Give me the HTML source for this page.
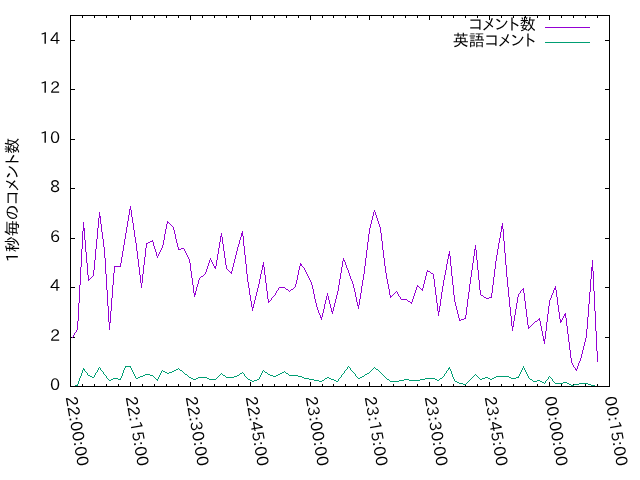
<!DOCTYPE html>
<html lang="ja"><head><meta charset="utf-8"><title>コメント数</title>
<style>html,body{margin:0;padding:0;background:#fff;overflow:hidden}svg{display:block}text{font-family:'IPAPGothic','Liberation Sans','IPAGothic','Noto Sans CJK JP',sans-serif;font-size:16px;fill:#000}</style></head><body>
<svg width="640" height="480" viewBox="0 0 640 480">
<rect width="640" height="480" fill="#fff"/>
<path d="M70.5 386.0v-4M70.5 16.0v4M82.5 386.0v-2M82.5 16.0v2M94.5 386.0v-2M94.5 16.0v2M106.5 386.0v-2M106.5 16.0v2M118.5 386.0v-2M118.5 16.0v2M130.5 386.0v-4M130.5 16.0v4M142.5 386.0v-2M142.5 16.0v2M154.5 386.0v-2M154.5 16.0v2M166.5 386.0v-2M166.5 16.0v2M178.5 386.0v-2M178.5 16.0v2M190.5 386.0v-4M190.5 16.0v4M202.5 386.0v-2M202.5 16.0v2M214.5 386.0v-2M214.5 16.0v2M226.5 386.0v-2M226.5 16.0v2M238.5 386.0v-2M238.5 16.0v2M250.5 386.0v-4M250.5 16.0v4M262.5 386.0v-2M262.5 16.0v2M274.5 386.0v-2M274.5 16.0v2M286.5 386.0v-2M286.5 16.0v2M298.5 386.0v-2M298.5 16.0v2M310.5 386.0v-4M310.5 16.0v4M322.5 386.0v-2M322.5 16.0v2M333.5 386.0v-2M333.5 16.0v2M345.5 386.0v-2M345.5 16.0v2M357.5 386.0v-2M357.5 16.0v2M369.5 386.0v-4M369.5 16.0v4M381.5 386.0v-2M381.5 16.0v2M393.5 386.0v-2M393.5 16.0v2M405.5 386.0v-2M405.5 16.0v2M417.5 386.0v-2M417.5 16.0v2M429.5 386.0v-4M429.5 16.0v4M441.5 386.0v-2M441.5 16.0v2M453.5 386.0v-2M453.5 16.0v2M465.5 386.0v-2M465.5 16.0v2M477.5 386.0v-2M477.5 16.0v2M489.5 386.0v-4M489.5 16.0v4M501.5 386.0v-2M501.5 16.0v2M513.5 386.0v-2M513.5 16.0v2M525.5 386.0v-2M525.5 16.0v2M537.5 386.0v-2M537.5 16.0v2M549.5 386.0v-4M549.5 16.0v4M561.5 386.0v-2M561.5 16.0v2M573.5 386.0v-2M573.5 16.0v2M585.5 386.0v-2M585.5 16.0v2M597.5 386.0v-2M597.5 16.0v2M609.5 386.0v-4M609.5 16.0v4M71.0 386.5h4M609.0 386.5h-4M71.0 337.5h4M609.0 337.5h-4M71.0 287.5h4M609.0 287.5h-4M71.0 238.5h4M609.0 238.5h-4M71.0 188.5h4M609.0 188.5h-4M71.0 139.5h4M609.0 139.5h-4M71.0 89.5h4M609.0 89.5h-4M71.0 40.5h4M609.0 40.5h-4" stroke="#000" stroke-width="1" fill="none" shape-rendering="crispEdges"/>
<text x="60" y="390.0" text-anchor="end">0</text>
<text x="60" y="341.0" text-anchor="end">2</text>
<text x="60" y="291.0" text-anchor="end">4</text>
<text x="60" y="242.0" text-anchor="end">6</text>
<text x="60" y="192.0" text-anchor="end">8</text>
<text x="60" y="143.0" text-anchor="end" textLength="20.16" lengthAdjust="spacing">10</text>
<text x="60" y="93.0" text-anchor="end" textLength="20.16" lengthAdjust="spacing">12</text>
<text x="60" y="44.0" text-anchor="end" textLength="20.16" lengthAdjust="spacing">14</text>
<text transform="translate(70.5,396.5) rotate(80)" x="0" y="5" textLength="70.7" lengthAdjust="spacing">22:00:00</text>
<text transform="translate(130.5,396.5) rotate(80)" x="0" y="5" textLength="70.7" lengthAdjust="spacing">22:15:00</text>
<text transform="translate(190.5,396.5) rotate(80)" x="0" y="5" textLength="70.7" lengthAdjust="spacing">22:30:00</text>
<text transform="translate(250.5,396.5) rotate(80)" x="0" y="5" textLength="70.7" lengthAdjust="spacing">22:45:00</text>
<text transform="translate(310.5,396.5) rotate(80)" x="0" y="5" textLength="70.7" lengthAdjust="spacing">23:00:00</text>
<text transform="translate(369.5,396.5) rotate(80)" x="0" y="5" textLength="70.7" lengthAdjust="spacing">23:15:00</text>
<text transform="translate(429.5,396.5) rotate(80)" x="0" y="5" textLength="70.7" lengthAdjust="spacing">23:30:00</text>
<text transform="translate(489.5,396.5) rotate(80)" x="0" y="5" textLength="70.7" lengthAdjust="spacing">23:45:00</text>
<text transform="translate(549.5,396.5) rotate(80)" x="0" y="5" textLength="70.7" lengthAdjust="spacing">00:00:00</text>
<text transform="translate(609.5,396.5) rotate(80)" x="0" y="5" textLength="70.7" lengthAdjust="spacing">00:15:00</text>
<text transform="translate(17.5,200) rotate(-90)" text-anchor="middle" textLength="124.64" lengthAdjust="spacing">1秒毎のコメント数</text>
<text x="535.8" y="30.3" text-anchor="end" textLength="67.05" lengthAdjust="spacing">コメント数</text>
<text x="535.8" y="45.5" text-anchor="end" textLength="83.05" lengthAdjust="spacing">英語コメント</text>
<path d="M545 27.5H590" stroke="#9400d3" stroke-width="1" fill="none" shape-rendering="crispEdges"/>
<path d="M545 42.5H590" stroke="#009e73" stroke-width="1" fill="none" shape-rendering="crispEdges"/>
<path d="M72 337h1v1h-1zM73 335h1v2h-1zM74 333h1v2h-1zM75 332h1v1h-1zM76 330h1v2h-1zM77 321h1v9h-1zM78 303h1v18h-1zM79 285h1v18h-1zM80 267h1v18h-1zM81 249h1v18h-1zM82 231h1v18h-1zM83 222h1v9h-1zM84 228h1v12h-1zM85 240h1v12h-1zM86 252h1v11h-1zM87 263h1v12h-1zM88 275h1v6h-1zM89 279h1v1h-1zM90 278h1v1h-1zM91 277h1v1h-1zM92 276h1v1h-1zM93 270h1v6h-1zM94 260h1v10h-1zM95 249h1v11h-1zM96 239h1v10h-1zM97 228h1v11h-1zM98 218h1v10h-1zM99 212h1v6h-1zM100 216h1v8h-1zM101 224h1v8h-1zM102 232h1v7h-1zM103 239h1v8h-1zM104 247h1v11h-1zM105 258h1v16h-1zM106 274h1v16h-1zM107 290h1v16h-1zM108 306h1v16h-1zM109 322h1v8h-1zM110 311h1v12h-1zM111 298h1v13h-1zM112 285h1v13h-1zM113 273h1v12h-1zM114 266h1v7h-1zM115 266h1v1h-1zM116 266h1v1h-1zM117 266h1v1h-1zM118 266h1v1h-1zM119 266h1v1h-1zM120 263h1v4h-1zM121 257h1v6h-1zM122 251h1v6h-1zM123 245h1v6h-1zM124 239h1v6h-1zM125 233h1v6h-1zM126 227h1v6h-1zM127 221h1v6h-1zM128 215h1v6h-1zM129 209h1v6h-1zM130 206h1v4h-1zM131 210h1v7h-1zM132 217h1v6h-1zM133 223h1v7h-1zM134 230h1v7h-1zM135 237h1v6h-1zM136 243h1v8h-1zM137 251h1v8h-1zM138 259h1v8h-1zM139 267h1v8h-1zM140 275h1v8h-1zM141 283h1v5h-1zM142 274h1v9h-1zM143 265h1v9h-1zM144 257h1v8h-1zM145 248h1v9h-1zM146 243h1v5h-1zM147 243h1v1h-1zM148 242h1v1h-1zM149 242h1v1h-1zM150 241h1v1h-1zM151 241h1v1h-1zM152 240h1v2h-1zM153 242h1v4h-1zM154 246h1v3h-1zM155 249h1v3h-1zM156 252h1v4h-1zM157 256h1v2h-1zM158 254h1v2h-1zM159 252h1v2h-1zM160 250h1v2h-1zM161 248h1v2h-1zM162 245h1v3h-1zM163 240h1v5h-1zM164 234h1v6h-1zM165 229h1v5h-1zM166 224h1v5h-1zM167 221h1v3h-1zM168 222h1v1h-1zM169 223h1v1h-1zM170 224h1v1h-1zM171 225h1v1h-1zM172 226h1v1h-1zM173 227h1v3h-1zM174 230h1v4h-1zM175 234h1v5h-1zM176 239h1v4h-1zM177 243h1v4h-1zM178 247h1v3h-1zM179 249h1v1h-1zM180 249h1v1h-1zM181 248h1v1h-1zM182 248h1v1h-1zM183 248h1v1h-1zM184 249h1v2h-1zM185 251h1v2h-1zM186 253h1v2h-1zM187 255h1v2h-1zM188 257h1v2h-1zM189 259h1v4h-1zM190 263h1v8h-1zM191 271h1v7h-1zM192 278h1v7h-1zM193 285h1v8h-1zM194 293h1v4h-1zM195 291h1v4h-1zM196 287h1v4h-1zM197 284h1v3h-1zM198 280h1v4h-1zM199 278h1v2h-1zM200 277h1v1h-1zM201 276h1v1h-1zM202 276h1v1h-1zM203 275h1v1h-1zM204 274h1v1h-1zM205 272h1v2h-1zM206 269h1v3h-1zM207 266h1v3h-1zM208 263h1v3h-1zM209 260h1v3h-1zM210 258h1v2h-1zM211 260h1v2h-1zM212 262h1v2h-1zM213 264h1v2h-1zM214 266h1v2h-1zM215 266h1v3h-1zM216 260h1v6h-1zM217 254h1v6h-1zM218 248h1v6h-1zM219 242h1v6h-1zM220 236h1v6h-1zM221 233h1v4h-1zM222 237h1v7h-1zM223 244h1v7h-1zM224 251h1v7h-1zM225 258h1v7h-1zM226 265h1v4h-1zM227 269h1v1h-1zM228 270h1v1h-1zM229 271h1v1h-1zM230 272h1v1h-1zM231 271h1v3h-1zM232 267h1v4h-1zM233 263h1v4h-1zM234 259h1v4h-1zM235 255h1v4h-1zM236 251h1v4h-1zM237 247h1v4h-1zM238 244h1v3h-1zM239 240h1v4h-1zM240 237h1v3h-1zM241 233h1v4h-1zM242 231h1v5h-1zM243 236h1v10h-1zM244 246h1v9h-1zM245 255h1v9h-1zM246 264h1v10h-1zM247 274h1v8h-1zM248 282h1v6h-1zM249 288h1v7h-1zM250 295h1v6h-1zM251 301h1v6h-1zM252 307h1v4h-1zM253 304h1v4h-1zM254 300h1v4h-1zM255 296h1v4h-1zM256 292h1v4h-1zM257 288h1v4h-1zM258 284h1v4h-1zM259 279h1v5h-1zM260 274h1v5h-1zM261 270h1v4h-1zM262 265h1v5h-1zM263 262h1v5h-1zM264 267h1v8h-1zM265 275h1v8h-1zM266 283h1v8h-1zM267 291h1v8h-1zM268 299h1v4h-1zM269 301h1v1h-1zM270 300h1v1h-1zM271 298h1v2h-1zM272 297h1v1h-1zM273 296h1v1h-1zM274 295h1v1h-1zM275 293h1v2h-1zM276 291h1v2h-1zM277 290h1v1h-1zM278 288h1v2h-1zM279 287h1v1h-1zM280 287h1v1h-1zM281 287h1v1h-1zM282 287h1v1h-1zM283 287h1v1h-1zM284 287h1v1h-1zM285 288h1v1h-1zM286 289h1v1h-1zM287 289h1v1h-1zM288 290h1v1h-1zM289 291h1v1h-1zM290 290h1v1h-1zM291 289h1v1h-1zM292 289h1v1h-1zM293 288h1v1h-1zM294 287h1v1h-1zM295 284h1v3h-1zM296 280h1v4h-1zM297 275h1v5h-1zM298 270h1v5h-1zM299 266h1v4h-1zM300 263h1v3h-1zM301 264h1v2h-1zM302 266h1v1h-1zM303 267h1v1h-1zM304 268h1v2h-1zM305 270h1v2h-1zM306 272h1v2h-1zM307 274h1v2h-1zM308 276h1v2h-1zM309 278h1v2h-1zM310 280h1v2h-1zM311 282h1v3h-1zM312 285h1v4h-1zM313 289h1v5h-1zM314 294h1v5h-1zM315 299h1v4h-1zM316 303h1v4h-1zM317 307h1v3h-1zM318 310h1v3h-1zM319 313h1v2h-1zM320 315h1v3h-1zM321 317h1v3h-1zM322 313h1v4h-1zM323 309h1v4h-1zM324 304h1v5h-1zM325 300h1v4h-1zM326 296h1v4h-1zM327 293h1v3h-1zM328 296h1v4h-1zM329 300h1v4h-1zM330 304h1v4h-1zM331 308h1v4h-1zM332 311h1v3h-1zM333 307h1v4h-1zM334 303h1v4h-1zM335 299h1v4h-1zM336 295h1v4h-1zM337 291h1v4h-1zM338 285h1v6h-1zM339 279h1v6h-1zM340 273h1v6h-1zM341 267h1v6h-1zM342 261h1v6h-1zM343 258h1v3h-1zM344 260h1v2h-1zM345 262h1v3h-1zM346 265h1v3h-1zM347 268h1v2h-1zM348 270h1v3h-1zM349 273h1v3h-1zM350 276h1v3h-1zM351 279h1v2h-1zM352 281h1v3h-1zM353 284h1v4h-1zM354 288h1v4h-1zM355 292h1v5h-1zM356 297h1v5h-1zM357 302h1v4h-1zM358 305h1v4h-1zM359 299h1v6h-1zM360 293h1v6h-1zM361 286h1v7h-1zM362 280h1v6h-1zM363 274h1v6h-1zM364 266h1v8h-1zM365 258h1v8h-1zM366 250h1v8h-1zM367 242h1v8h-1zM368 234h1v8h-1zM369 228h1v6h-1zM370 224h1v4h-1zM371 220h1v4h-1zM372 216h1v4h-1zM373 212h1v4h-1zM374 210h1v2h-1zM375 212h1v3h-1zM376 215h1v3h-1zM377 218h1v3h-1zM378 221h1v3h-1zM379 224h1v3h-1zM380 227h1v6h-1zM381 233h1v8h-1zM382 241h1v9h-1zM383 250h1v8h-1zM384 258h1v8h-1zM385 266h1v7h-1zM386 273h1v6h-1zM387 279h1v5h-1zM388 284h1v5h-1zM389 289h1v6h-1zM390 295h1v3h-1zM391 296h1v1h-1zM392 295h1v1h-1zM393 294h1v1h-1zM394 293h1v1h-1zM395 292h1v1h-1zM396 291h1v1h-1zM397 292h1v2h-1zM398 294h1v2h-1zM399 296h1v1h-1zM400 297h1v2h-1zM401 299h1v1h-1zM402 299h1v1h-1zM403 299h1v1h-1zM404 299h1v1h-1zM405 299h1v1h-1zM406 299h1v1h-1zM407 300h1v1h-1zM408 301h1v1h-1zM409 301h1v1h-1zM410 302h1v1h-1zM411 302h1v2h-1zM412 299h1v3h-1zM413 296h1v3h-1zM414 293h1v3h-1zM415 290h1v3h-1zM416 287h1v3h-1zM417 285h1v2h-1zM418 286h1v1h-1zM419 287h1v1h-1zM420 288h1v1h-1zM421 289h1v1h-1zM422 288h1v3h-1zM423 284h1v4h-1zM424 280h1v4h-1zM425 276h1v4h-1zM426 272h1v4h-1zM427 270h1v2h-1zM428 271h1v1h-1zM429 271h1v1h-1zM430 272h1v1h-1zM431 273h1v1h-1zM432 273h1v1h-1zM433 274h1v5h-1zM434 279h1v8h-1zM435 287h1v8h-1zM436 295h1v8h-1zM437 303h1v8h-1zM438 311h1v5h-1zM439 306h1v6h-1zM440 299h1v7h-1zM441 292h1v7h-1zM442 286h1v6h-1zM443 280h1v6h-1zM444 275h1v5h-1zM445 270h1v5h-1zM446 264h1v6h-1zM447 259h1v5h-1zM448 254h1v5h-1zM449 251h1v5h-1zM450 256h1v10h-1zM451 266h1v10h-1zM452 276h1v9h-1zM453 285h1v10h-1zM454 295h1v7h-1zM455 302h1v4h-1zM456 306h1v4h-1zM457 310h1v4h-1zM458 314h1v4h-1zM459 318h1v3h-1zM460 320h1v1h-1zM461 319h1v1h-1zM462 319h1v1h-1zM463 319h1v1h-1zM464 318h1v1h-1zM465 315h1v4h-1zM466 307h1v8h-1zM467 299h1v8h-1zM468 292h1v7h-1zM469 284h1v8h-1zM470 277h1v7h-1zM471 270h1v7h-1zM472 263h1v7h-1zM473 256h1v7h-1zM474 249h1v7h-1zM475 245h1v5h-1zM476 250h1v10h-1zM477 260h1v10h-1zM478 270h1v10h-1zM479 280h1v10h-1zM480 290h1v5h-1zM481 295h1v1h-1zM482 295h1v1h-1zM483 296h1v1h-1zM484 297h1v1h-1zM485 297h1v1h-1zM486 298h1v1h-1zM487 298h1v1h-1zM488 298h1v1h-1zM489 297h1v1h-1zM490 297h1v1h-1zM491 293h1v5h-1zM492 285h1v8h-1zM493 277h1v8h-1zM494 269h1v8h-1zM495 261h1v8h-1zM496 255h1v6h-1zM497 249h1v6h-1zM498 243h1v6h-1zM499 238h1v5h-1zM500 232h1v6h-1zM501 226h1v6h-1zM502 223h1v6h-1zM503 229h1v12h-1zM504 241h1v12h-1zM505 253h1v12h-1zM506 265h1v12h-1zM507 277h1v10h-1zM508 287h1v10h-1zM509 297h1v10h-1zM510 307h1v9h-1zM511 316h1v10h-1zM512 326h1v5h-1zM513 321h1v6h-1zM514 315h1v6h-1zM515 309h1v6h-1zM516 303h1v6h-1zM517 297h1v6h-1zM518 294h1v3h-1zM519 293h1v1h-1zM520 291h1v2h-1zM521 290h1v1h-1zM522 289h1v1h-1zM523 288h1v5h-1zM524 293h1v8h-1zM525 301h1v8h-1zM526 309h1v8h-1zM527 317h1v8h-1zM528 325h1v4h-1zM529 327h1v1h-1zM530 326h1v1h-1zM531 325h1v1h-1zM532 324h1v1h-1zM533 323h1v1h-1zM534 322h1v1h-1zM535 321h1v1h-1zM536 321h1v1h-1zM537 320h1v1h-1zM538 319h1v1h-1zM539 318h1v3h-1zM540 321h1v5h-1zM541 326h1v5h-1zM542 331h1v5h-1zM543 336h1v5h-1zM544 339h1v5h-1zM545 331h1v8h-1zM546 322h1v9h-1zM547 314h1v8h-1zM548 306h1v8h-1zM549 300h1v6h-1zM550 298h1v2h-1zM551 295h1v3h-1zM552 293h1v2h-1zM553 290h1v3h-1zM554 288h1v2h-1zM555 286h1v4h-1zM556 290h1v7h-1zM557 297h1v8h-1zM558 305h1v7h-1zM559 312h1v7h-1zM560 319h1v4h-1zM561 320h1v2h-1zM562 318h1v2h-1zM563 316h1v2h-1zM564 314h1v2h-1zM565 313h1v5h-1zM566 318h1v8h-1zM567 326h1v8h-1zM568 334h1v8h-1zM569 342h1v8h-1zM570 350h1v8h-1zM571 358h1v5h-1zM572 363h1v2h-1zM573 365h1v2h-1zM574 367h1v1h-1zM575 368h1v2h-1zM576 369h1v2h-1zM577 366h1v3h-1zM578 363h1v3h-1zM579 361h1v2h-1zM580 358h1v3h-1zM581 354h1v4h-1zM582 350h1v4h-1zM583 346h1v4h-1zM584 342h1v4h-1zM585 338h1v4h-1zM586 329h1v9h-1zM587 317h1v12h-1zM588 304h1v13h-1zM589 292h1v12h-1zM590 279h1v13h-1zM591 267h1v12h-1zM592 260h1v11h-1zM593 271h1v20h-1zM594 291h1v20h-1zM595 311h1v20h-1zM596 331h1v20h-1zM597 351h1v11h-1z" fill="#9400d3" stroke="none" shape-rendering="crispEdges"/>
<path d="M72 386h1v1h-1zM73 386h1v1h-1zM74 386h1v1h-1zM75 385h1v1h-1zM76 385h1v1h-1zM77 384h1v2h-1zM78 381h1v3h-1zM79 378h1v3h-1zM80 376h1v2h-1zM81 373h1v3h-1zM82 370h1v3h-1zM83 368h1v2h-1zM84 369h1v2h-1zM85 371h1v1h-1zM86 372h1v1h-1zM87 373h1v2h-1zM88 375h1v1h-1zM89 375h1v1h-1zM90 376h1v1h-1zM91 376h1v1h-1zM92 377h1v1h-1zM93 377h1v1h-1zM94 375h1v2h-1zM95 373h1v2h-1zM96 372h1v1h-1zM97 370h1v2h-1zM98 368h1v2h-1zM99 367h1v1h-1zM100 368h1v2h-1zM101 370h1v1h-1zM102 371h1v1h-1zM103 372h1v2h-1zM104 374h1v1h-1zM105 375h1v1h-1zM106 376h1v2h-1zM107 378h1v1h-1zM108 379h1v1h-1zM109 380h1v1h-1zM110 380h1v1h-1zM111 379h1v1h-1zM112 379h1v1h-1zM113 378h1v1h-1zM114 378h1v1h-1zM115 378h1v1h-1zM116 378h1v1h-1zM117 378h1v1h-1zM118 379h1v1h-1zM119 379h1v1h-1zM120 378h1v2h-1zM121 376h1v2h-1zM122 373h1v3h-1zM123 370h1v3h-1zM124 368h1v2h-1zM125 366h1v2h-1zM126 366h1v1h-1zM127 366h1v1h-1zM128 366h1v1h-1zM129 366h1v1h-1zM130 366h1v2h-1zM131 368h1v2h-1zM132 370h1v2h-1zM133 372h1v2h-1zM134 374h1v2h-1zM135 376h1v2h-1zM136 378h1v1h-1zM137 378h1v1h-1zM138 377h1v1h-1zM139 377h1v1h-1zM140 376h1v1h-1zM141 376h1v1h-1zM142 376h1v1h-1zM143 375h1v1h-1zM144 375h1v1h-1zM145 374h1v1h-1zM146 374h1v1h-1zM147 374h1v1h-1zM148 374h1v1h-1zM149 374h1v1h-1zM150 375h1v1h-1zM151 375h1v1h-1zM152 375h1v1h-1zM153 376h1v1h-1zM154 377h1v1h-1zM155 378h1v1h-1zM156 379h1v1h-1zM157 379h1v2h-1zM158 377h1v2h-1zM159 375h1v2h-1zM160 373h1v2h-1zM161 371h1v2h-1zM162 370h1v1h-1zM163 371h1v1h-1zM164 371h1v1h-1zM165 372h1v1h-1zM166 372h1v1h-1zM167 373h1v1h-1zM168 373h1v1h-1zM169 372h1v1h-1zM170 372h1v1h-1zM171 372h1v1h-1zM172 371h1v1h-1zM173 371h1v1h-1zM174 370h1v1h-1zM175 370h1v1h-1zM176 369h1v1h-1zM177 369h1v1h-1zM178 368h1v1h-1zM179 369h1v1h-1zM180 370h1v1h-1zM181 370h1v1h-1zM182 371h1v1h-1zM183 372h1v1h-1zM184 373h1v1h-1zM185 374h1v1h-1zM186 374h1v1h-1zM187 375h1v1h-1zM188 376h1v1h-1zM189 377h1v1h-1zM190 377h1v1h-1zM191 378h1v1h-1zM192 378h1v1h-1zM193 379h1v1h-1zM194 379h1v1h-1zM195 379h1v1h-1zM196 378h1v1h-1zM197 378h1v1h-1zM198 377h1v1h-1zM199 377h1v1h-1zM200 377h1v1h-1zM201 377h1v1h-1zM202 377h1v1h-1zM203 377h1v1h-1zM204 377h1v1h-1zM205 377h1v1h-1zM206 377h1v1h-1zM207 378h1v1h-1zM208 378h1v1h-1zM209 379h1v1h-1zM210 379h1v1h-1zM211 379h1v1h-1zM212 379h1v1h-1zM213 379h1v1h-1zM214 379h1v1h-1zM215 379h1v1h-1zM216 378h1v1h-1zM217 377h1v1h-1zM218 376h1v1h-1zM219 375h1v1h-1zM220 374h1v1h-1zM221 373h1v1h-1zM222 374h1v1h-1zM223 375h1v1h-1zM224 375h1v1h-1zM225 376h1v1h-1zM226 377h1v1h-1zM227 377h1v1h-1zM228 377h1v1h-1zM229 377h1v1h-1zM230 377h1v1h-1zM231 377h1v1h-1zM232 377h1v1h-1zM233 377h1v1h-1zM234 376h1v1h-1zM235 376h1v1h-1zM236 376h1v1h-1zM237 375h1v1h-1zM238 375h1v1h-1zM239 374h1v1h-1zM240 373h1v1h-1zM241 373h1v1h-1zM242 372h1v1h-1zM243 373h1v1h-1zM244 374h1v2h-1zM245 376h1v1h-1zM246 377h1v1h-1zM247 378h1v1h-1zM248 379h1v1h-1zM249 379h1v1h-1zM250 380h1v1h-1zM251 380h1v1h-1zM252 381h1v1h-1zM253 381h1v1h-1zM254 380h1v1h-1zM255 380h1v1h-1zM256 380h1v1h-1zM257 379h1v1h-1zM258 379h1v1h-1zM259 377h1v2h-1zM260 375h1v2h-1zM261 373h1v2h-1zM262 371h1v2h-1zM263 370h1v1h-1zM264 371h1v1h-1zM265 372h1v1h-1zM266 372h1v1h-1zM267 373h1v1h-1zM268 374h1v1h-1zM269 374h1v1h-1zM270 375h1v1h-1zM271 375h1v1h-1zM272 375h1v1h-1zM273 376h1v1h-1zM274 376h1v1h-1zM275 376h1v1h-1zM276 375h1v1h-1zM277 375h1v1h-1zM278 374h1v1h-1zM279 374h1v1h-1zM280 373h1v1h-1zM281 373h1v1h-1zM282 372h1v1h-1zM283 372h1v1h-1zM284 371h1v1h-1zM285 372h1v1h-1zM286 373h1v1h-1zM287 373h1v1h-1zM288 374h1v1h-1zM289 375h1v1h-1zM290 375h1v1h-1zM291 375h1v1h-1zM292 375h1v1h-1zM293 375h1v1h-1zM294 375h1v1h-1zM295 375h1v1h-1zM296 375h1v1h-1zM297 375h1v1h-1zM298 376h1v1h-1zM299 376h1v1h-1zM300 376h1v1h-1zM301 376h1v1h-1zM302 377h1v1h-1zM303 377h1v1h-1zM304 378h1v1h-1zM305 378h1v1h-1zM306 378h1v1h-1zM307 378h1v1h-1zM308 378h1v1h-1zM309 379h1v1h-1zM310 379h1v1h-1zM311 379h1v1h-1zM312 379h1v1h-1zM313 379h1v1h-1zM314 380h1v1h-1zM315 380h1v1h-1zM316 380h1v1h-1zM317 380h1v1h-1zM318 380h1v1h-1zM319 381h1v1h-1zM320 381h1v1h-1zM321 381h1v1h-1zM322 380h1v1h-1zM323 380h1v1h-1zM324 379h1v1h-1zM325 378h1v1h-1zM326 378h1v1h-1zM327 377h1v1h-1zM328 377h1v1h-1zM329 378h1v1h-1zM330 378h1v1h-1zM331 379h1v1h-1zM332 379h1v1h-1zM333 379h1v1h-1zM334 380h1v1h-1zM335 380h1v1h-1zM336 381h1v1h-1zM337 381h1v1h-1zM338 379h1v2h-1zM339 378h1v1h-1zM340 377h1v1h-1zM341 375h1v2h-1zM342 374h1v1h-1zM343 373h1v1h-1zM344 371h1v2h-1zM345 370h1v1h-1zM346 369h1v1h-1zM347 367h1v2h-1zM348 366h1v1h-1zM349 367h1v1h-1zM350 368h1v2h-1zM351 370h1v1h-1zM352 371h1v1h-1zM353 372h1v1h-1zM354 373h1v1h-1zM355 374h1v2h-1zM356 376h1v1h-1zM357 377h1v1h-1zM358 378h1v1h-1zM359 378h1v1h-1zM360 377h1v1h-1zM361 377h1v1h-1zM362 376h1v1h-1zM363 376h1v1h-1zM364 375h1v1h-1zM365 374h1v1h-1zM366 374h1v1h-1zM367 373h1v1h-1zM368 373h1v1h-1zM369 372h1v1h-1zM370 371h1v1h-1zM371 370h1v1h-1zM372 369h1v1h-1zM373 368h1v1h-1zM374 367h1v1h-1zM375 368h1v1h-1zM376 369h1v1h-1zM377 369h1v1h-1zM378 370h1v1h-1zM379 371h1v1h-1zM380 372h1v1h-1zM381 373h1v1h-1zM382 374h1v1h-1zM383 375h1v1h-1zM384 376h1v1h-1zM385 377h1v1h-1zM386 378h1v1h-1zM387 379h1v1h-1zM388 379h1v1h-1zM389 380h1v1h-1zM390 381h1v1h-1zM391 381h1v1h-1zM392 381h1v1h-1zM393 381h1v1h-1zM394 381h1v1h-1zM395 381h1v1h-1zM396 381h1v1h-1zM397 381h1v1h-1zM398 381h1v1h-1zM399 380h1v1h-1zM400 380h1v1h-1zM401 380h1v1h-1zM402 380h1v1h-1zM403 380h1v1h-1zM404 379h1v1h-1zM405 379h1v1h-1zM406 379h1v1h-1zM407 379h1v1h-1zM408 379h1v1h-1zM409 380h1v1h-1zM410 380h1v1h-1zM411 380h1v1h-1zM412 380h1v1h-1zM413 380h1v1h-1zM414 380h1v1h-1zM415 380h1v1h-1zM416 380h1v1h-1zM417 380h1v1h-1zM418 380h1v1h-1zM419 380h1v1h-1zM420 379h1v1h-1zM421 379h1v1h-1zM422 379h1v1h-1zM423 379h1v1h-1zM424 379h1v1h-1zM425 378h1v1h-1zM426 378h1v1h-1zM427 378h1v1h-1zM428 378h1v1h-1zM429 378h1v1h-1zM430 378h1v1h-1zM431 378h1v1h-1zM432 378h1v1h-1zM433 378h1v1h-1zM434 378h1v1h-1zM435 379h1v1h-1zM436 379h1v1h-1zM437 380h1v1h-1zM438 380h1v1h-1zM439 379h1v1h-1zM440 378h1v1h-1zM441 378h1v1h-1zM442 377h1v1h-1zM443 376h1v1h-1zM444 374h1v2h-1zM445 373h1v1h-1zM446 371h1v2h-1zM447 370h1v1h-1zM448 368h1v2h-1zM449 367h1v2h-1zM450 369h1v2h-1zM451 371h1v3h-1zM452 374h1v3h-1zM453 377h1v2h-1zM454 379h1v2h-1zM455 381h1v1h-1zM456 381h1v1h-1zM457 382h1v1h-1zM458 382h1v1h-1zM459 383h1v1h-1zM460 383h1v1h-1zM461 383h1v1h-1zM462 383h1v1h-1zM463 384h1v1h-1zM464 384h1v1h-1zM465 384h1v1h-1zM466 383h1v1h-1zM467 382h1v1h-1zM468 381h1v1h-1zM469 380h1v1h-1zM470 379h1v1h-1zM471 378h1v1h-1zM472 377h1v1h-1zM473 376h1v1h-1zM474 375h1v1h-1zM475 374h1v1h-1zM476 375h1v1h-1zM477 376h1v1h-1zM478 377h1v1h-1zM479 378h1v1h-1zM480 379h1v1h-1zM481 379h1v1h-1zM482 378h1v1h-1zM483 378h1v1h-1zM484 378h1v1h-1zM485 377h1v1h-1zM486 377h1v1h-1zM487 377h1v1h-1zM488 378h1v1h-1zM489 378h1v1h-1zM490 379h1v1h-1zM491 379h1v1h-1zM492 378h1v1h-1zM493 378h1v1h-1zM494 377h1v1h-1zM495 377h1v1h-1zM496 376h1v1h-1zM497 376h1v1h-1zM498 376h1v1h-1zM499 376h1v1h-1zM500 376h1v1h-1zM501 376h1v1h-1zM502 376h1v1h-1zM503 376h1v1h-1zM504 376h1v1h-1zM505 376h1v1h-1zM506 376h1v1h-1zM507 376h1v1h-1zM508 376h1v1h-1zM509 377h1v1h-1zM510 377h1v1h-1zM511 378h1v1h-1zM512 378h1v1h-1zM513 378h1v1h-1zM514 378h1v1h-1zM515 378h1v1h-1zM516 377h1v1h-1zM517 377h1v1h-1zM518 376h1v2h-1zM519 374h1v2h-1zM520 372h1v2h-1zM521 370h1v2h-1zM522 368h1v2h-1zM523 366h1v2h-1zM524 368h1v2h-1zM525 370h1v2h-1zM526 372h1v2h-1zM527 374h1v2h-1zM528 376h1v2h-1zM529 378h1v1h-1zM530 379h1v1h-1zM531 379h1v1h-1zM532 380h1v1h-1zM533 381h1v1h-1zM534 381h1v1h-1zM535 381h1v1h-1zM536 381h1v1h-1zM537 380h1v1h-1zM538 380h1v1h-1zM539 380h1v1h-1zM540 381h1v1h-1zM541 381h1v1h-1zM542 382h1v1h-1zM543 382h1v1h-1zM544 383h1v1h-1zM545 381h1v2h-1zM546 380h1v1h-1zM547 379h1v1h-1zM548 377h1v2h-1zM549 376h1v1h-1zM550 377h1v1h-1zM551 378h1v1h-1zM552 379h1v2h-1zM553 381h1v1h-1zM554 382h1v1h-1zM555 383h1v1h-1zM556 383h1v1h-1zM557 383h1v1h-1zM558 383h1v1h-1zM559 383h1v1h-1zM560 383h1v1h-1zM561 383h1v1h-1zM562 383h1v1h-1zM563 382h1v1h-1zM564 382h1v1h-1zM565 382h1v1h-1zM566 382h1v1h-1zM567 383h1v1h-1zM568 383h1v1h-1zM569 384h1v1h-1zM570 384h1v1h-1zM571 385h1v1h-1zM572 385h1v1h-1zM573 385h1v1h-1zM574 384h1v1h-1zM575 384h1v1h-1zM576 384h1v1h-1zM577 384h1v1h-1zM578 384h1v1h-1zM579 383h1v1h-1zM580 383h1v1h-1zM581 383h1v1h-1zM582 383h1v1h-1zM583 383h1v1h-1zM584 383h1v1h-1zM585 383h1v1h-1zM586 383h1v1h-1zM587 383h1v1h-1zM588 384h1v1h-1zM589 384h1v1h-1zM590 384h1v1h-1zM591 385h1v1h-1zM592 385h1v1h-1zM593 385h1v1h-1zM594 385h1v1h-1zM595 386h1v1h-1zM596 386h1v1h-1zM597 386h1v1h-1z" fill="#009e73" stroke="none" shape-rendering="crispEdges"/>
<rect x="70.5" y="15.5" width="539.0" height="371.0" stroke="#000" stroke-width="1" fill="none" shape-rendering="crispEdges"/>
</svg></body></html>
